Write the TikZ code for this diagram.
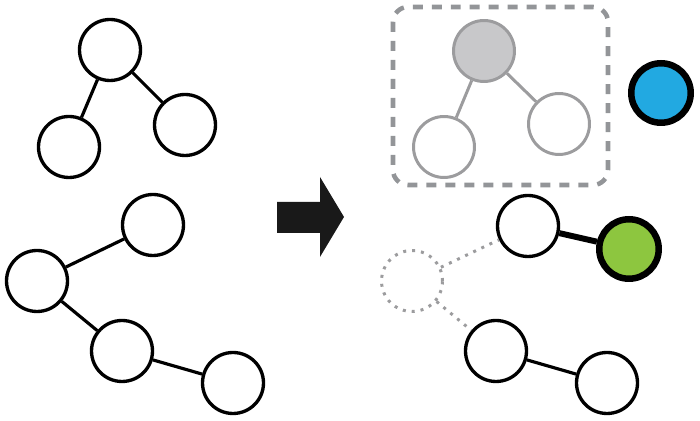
\documentclass[tikz,border=0pt]{standalone}
\usepackage{tikz}
\usetikzlibrary{arrows.meta,positioning,calc}

\definecolor{boxgray}{HTML}{939598}
\definecolor{fadegray}{HTML}{9C9C9E}
\definecolor{fillgray}{HTML}{C8C8CA}
\definecolor{nodeblue}{HTML}{22A9E1}
\definecolor{nodegreen}{HTML}{8DC63F}

\begin{document}
\begin{tikzpicture}[
  x=0.02cm, y=-0.02cm,
  vtx/.style={circle, draw=black, line width=1.9pt, fill=white, minimum size=1.22cm, inner sep=0pt},
  fade/.style={vtx, draw=fadegray, line width=1.7pt},
  bold/.style={vtx, line width=3.7pt, minimum size=1.19cm},
  ghost/.style={vtx, draw=fadegray, line width=1.7pt, dotted, dash pattern=on 1.7pt off 3.4pt},
  lnk/.style={line width=1.8pt},
  fadelnk/.style={line width=1.7pt, draw=fadegray},
  ghostlnk/.style={line width=1.7pt, draw=fadegray, dash pattern=on 1.7pt off 3.4pt},
]
\useasboundingbox (0,0) rectangle (700,421);

% ===== BEFORE =====
\node[vtx] (a_root) at (110,50) {};
\node[vtx] (a_left) at (69,147) {};
\node[vtx] (a_right) at (185,125) {};

\draw[lnk] (a_root) -- (a_left);
\draw[lnk] (a_root) -- (a_right);

\node[vtx] (b_top) at (153,225) {};
\node[vtx] (b_hub) at (37,281) {};
\node[vtx] (b_mid) at (122,351) {};
\node[vtx] (b_end) at (233,383) {};

\draw[lnk] (b_hub) -- (b_top);
\draw[lnk] (b_hub) -- (b_mid);
\draw[lnk] (b_mid) -- (b_end);

% ===== ARROW =====
\fill[black!90] (277,202) -- (320,202) -- (320,177) -- (344,217)
  -- (320,257) -- (320,233) -- (277,233) -- cycle;

% ===== AFTER =====
\draw[boxgray, line width=2.6pt, dash pattern=on 0.2cm off 0.18cm, rounded corners=0.3cm]
  (393,7) rectangle (608,185);

\node[fade, fill=fillgray] (c_root) at (484,51) {};
\node[fade] (c_left) at (444,147) {};
\node[fade] (c_right) at (559,124) {};

\draw[fadelnk] (c_root) -- (c_left);
\draw[fadelnk] (c_root) -- (c_right);

\node[bold, fill=nodeblue] (c_blue) at (661,93) {};

\node[ghost] (d_hub) at (412,281) {};
\node[vtx] (d_top) at (528,226) {};
\node[bold, fill=nodegreen] (d_green) at (629,249) {};
\node[vtx] (d_mid) at (496,351) {};
\node[vtx] (d_end) at (607,383) {};

\draw[ghostlnk] (d_hub) -- (d_top);
\draw[ghostlnk] (d_hub) -- (d_mid);
\draw[lnk, line width=3.4pt] (d_top) -- (d_green);
\draw[lnk] (d_mid) -- (d_end);

\end{tikzpicture}
\end{document}
